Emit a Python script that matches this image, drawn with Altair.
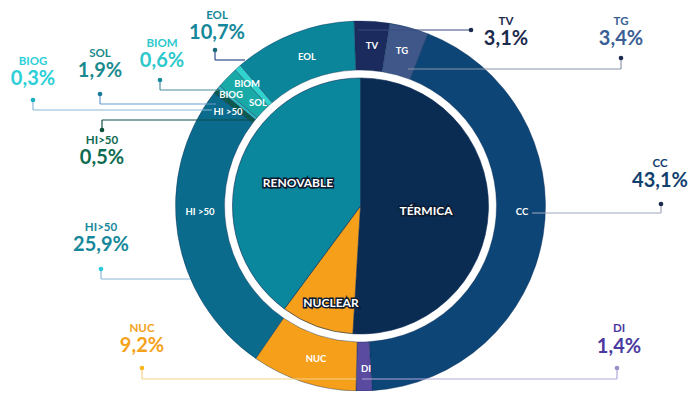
import math
import altair as alt
import pandas as pd

# ---------------- data ----------------
inner_cats = ["TÉRMICA", "NUCLEAR", "RENOVABLE"]
inner_vals = [51.0, 9.2, 39.9]
inner_colors = ["#0a2c52", "#f59f1b", "#0a879c"]

outer_cats = ["TV", "TG", "CC", "DI", "NUC", "HI>50", "HI<50", "BIOG", "SOL", "BIOM", "EOL"]
outer_vals = [3.1, 3.4, 43.1, 1.4, 9.2, 25.9, 0.5, 0.3, 1.9, 0.6, 10.7]
outer_colors = ["#1b2b5e", "#3f5889", "#0d4577", "#5a4aa0", "#f59f1b", "#0a6b8c",
                "#0b5a4f", "#2fb9bf", "#19aaa8", "#2fd2cd", "#0a8599"]
outer_names = ["TV", "TG", "CC", "DI", "NUC", "HI>50", "HI>50", "BIOG", "SOL", "BIOM", "EOL"]

# ---------------- layout (pixels, page coords) ----------------
OFF = 8
CX, CY = 360.5, 206
R_OUT, R_RING_IN, R_PIE = 185, 136, 128
RING_START = -0.035  # radians, slight counter-clockwise start of the outer ring

# callouts: label x, label y, value y, dot x, dot y, elbow y, end x, text color, line color, dot color
callout_layout = {
    "TV":    (506, 22, 39, 471, 30, 30, 358, "#1c2b4d", "#3a4a80", "#1c2b4d"),
    "TG":    (621, 22, 39, 621, 58, 69, 408, "#3a5f95", "#8a95aa", "#1c2b4d"),
    "CC":    (660, 164, 181, 661, 204, 213, 532, "#123f6e", "#a0a8c0", "#1c2b4d"),
    "DI":    (619, 329, 347, 617, 368, 379, 362, "#4a3aa0", "#b0a8d8", "#9a90c8"),
    "NUC":   (142, 329, 346, 142, 368, 379, 356, "#f5a21b", "#f8d48a", "#f5b820"),
    "HI>50": (101, 228, 245, 101, 269, 279, 190, "#16889a", "#8ab8d8", "#2ac8d8"),
    "HI<50": (102, 141, 158, 102, 130, 120, 253, "#0d6b50", "#0d4f4a", "#0d4f3a"),
    "BIOG":  (33, 62, 79, 33, 100, 110, 212, "#2ccfd8", "#8ab8d8", "#1ab0c0"),
    "SOL":   (100, 54, 71, 100, 94, 104, 216, "#1a8a8e", "#6a9ad0", "#1a7a9a"),
    "BIOM":  (162, 44, 61, 160, 80, 90, 221, "#2cc8cc", "#4a90a0", "#1a8a9a"),
    "EOL":   (217, 16, 33, 215, 50, 60, 245, "#14889a", "#2a4a8a", "#1a6a7a"),
}

ring_label_pos = {
    "TV": (372, 46), "TG": (402, 51), "CC": (522, 212), "DI": (366, 369),
    "NUC": (316, 359), "HI>50": (200, 212), "HI<50": (228, 112),
    "BIOG": (231, 95), "SOL": (258, 103), "BIOM": (247, 84), "EOL": (307, 57),
}
ring_label_text = {"HI>50": "HI >50", "HI<50": "HI >50"}

pie_label_pos = {"TÉRMICA": (426, 211), "NUCLEAR": (331, 303), "RENOVABLE": (298, 183)}

FONT = "Lato"

# ---------------- tables ----------------
inner_df = pd.DataFrame({"cat": inner_cats, "v": inner_vals, "i": range(len(inner_cats)),
                         "col": inner_colors})
outer_df = pd.DataFrame({"cat": outer_cats, "v": outer_vals, "i": range(len(outer_cats)),
                         "col": outer_colors})

def fmt(v):
    return f"{v:.1f}".replace(".", ",") + "%"

rows, segs, ring_rows = [], [], []
for c, name, v in zip(outer_cats, outer_names, outer_vals):
    lx, ly, vy, dx, dy, ey, ex, tc, lc, dc = callout_layout[c]
    rows.append({"name": name, "val": fmt(v), "lx": lx - OFF, "ly": ly - OFF, "vy": vy - OFF,
                 "dx": dx - OFF, "dy": dy - OFF, "tc": tc, "dc": dc})
    segs.append({"x": dx - OFF, "y": dy - OFF, "x2": dx - OFF, "y2": ey - OFF, "lc": lc})
    segs.append({"x": dx - OFF, "y": ey - OFF, "x2": ex - OFF, "y2": ey - OFF, "lc": lc})
    rx, ry = ring_label_pos[c]
    ring_rows.append({"t": ring_label_text.get(c, c), "x": rx - OFF, "y": ry - OFF})
call_df = pd.DataFrame(rows)
seg_df = pd.DataFrame(segs)
ring_df = pd.DataFrame(ring_rows)
pie_df = pd.DataFrame([{"t": k, "x": p[0] - OFF, "y": p[1] - OFF} for k, p in pie_label_pos.items()])

X = lambda f: alt.X(f"{f}:Q", scale=None, axis=None)
Y = lambda f: alt.Y(f"{f}:Q", scale=None, axis=None)

outer = alt.Chart(outer_df).mark_arc(outerRadius=R_OUT, innerRadius=R_RING_IN, stroke="#0b2a55",
                                     strokeWidth=0.4).encode(
    theta=alt.Theta("v:Q", stack=True,
                    scale=alt.Scale(range=[RING_START, RING_START + 2 * math.pi])),
    order=alt.Order("i:Q"),
    color=alt.Color("col:N", scale=None),
    x=alt.value(CX - OFF), y=alt.value(CY - OFF),
)
inner = alt.Chart(inner_df).mark_arc(outerRadius=R_PIE, stroke="#0b2a55", strokeWidth=0.6).encode(
    theta=alt.Theta("v:Q", stack=True),
    order=alt.Order("i:Q"),
    color=alt.Color("col:N", scale=None),
    x=alt.value(CX - OFF), y=alt.value(CY - OFF),
)

lines = alt.Chart(seg_df).mark_rule(strokeWidth=1.2).encode(
    x=X("x"), y=Y("y"), x2="x2:Q", y2="y2:Q", color=alt.Color("lc:N", scale=None))
dots = alt.Chart(call_df).mark_circle(size=22, opacity=1).encode(
    x=X("dx"), y=Y("dy"), color=alt.Color("dc:N", scale=None))
names = alt.Chart(call_df).mark_text(font=FONT, fontWeight="bold", fontSize=11.5, baseline="middle").encode(
    x=X("lx"), y=Y("ly"), text="name:N", color=alt.Color("tc:N", scale=None))
vals = alt.Chart(call_df).mark_text(font=FONT, fontWeight="bold", fontSize=20, baseline="middle").encode(
    x=X("lx"), y=Y("vy"), text="val:N", color=alt.Color("tc:N", scale=None))

ring_txt = alt.Chart(ring_df).mark_text(font=FONT, fontWeight="bold", fontSize=9.5, baseline="middle",
                                        color="white").encode(x=X("x"), y=Y("y"), text="t:N")
pie_outline = alt.Chart(pie_df).mark_text(font=FONT, fontWeight="bold", fontSize=12, baseline="middle",
                                          fill="#0a1a30", stroke="#0a1a30", strokeWidth=3).encode(
    x=X("x"), y=Y("y"), text="t:N")
pie_txt = alt.Chart(pie_df).mark_text(font=FONT, fontWeight="bold", fontSize=12, baseline="middle",
                                      color="white").encode(x=X("x"), y=Y("y"), text="t:N")

chart = alt.layer(outer, inner, lines, dots, names, vals, ring_txt, pie_outline, pie_txt).resolve_scale(
    theta="independent"
).properties(
    width=684, height=383, autosize="none", padding=0, background="white"
).configure_view(stroke=None)

chart.save("out.html", embed_options={"renderer": "svg", "actions": False})
